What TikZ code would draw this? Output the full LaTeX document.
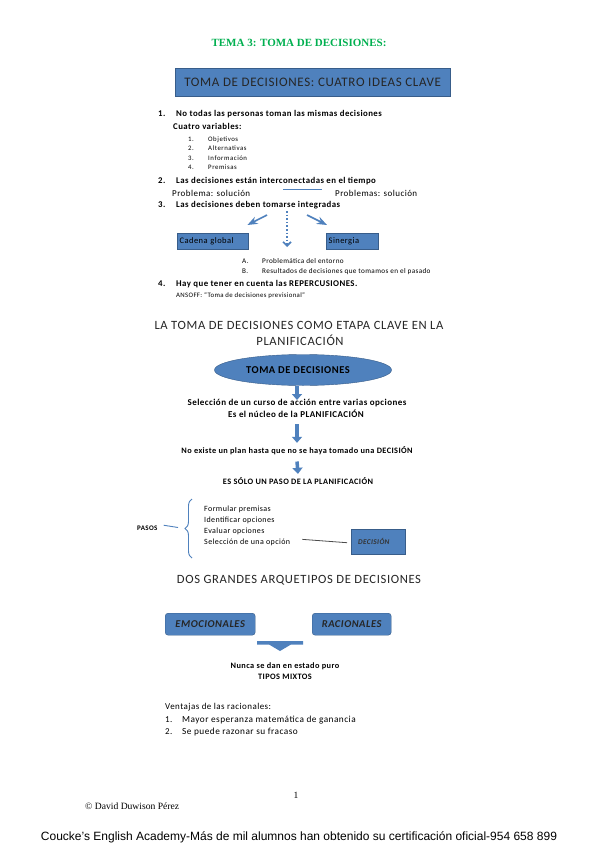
\documentclass[tikz,border=0pt]{standalone}
\usepackage{fontspec}
\setmainfont{Carlito}[LetterSpace=5]
\newfontfamily\spreadfont{Carlito}[LetterSpace=8]
\newfontfamily\timesfont{Liberation Serif}
\newfontfamily\arialfont{Liberation Sans}
\usetikzlibrary{arrows.meta,positioning,calc,shapes.geometric,decorations.pathreplacing}
\definecolor{boxblue}{RGB}{79,129,189}
\definecolor{boxedge}{RGB}{56,93,138}
\definecolor{titlegreen}{RGB}{0,176,80}
\newcommand{\fsz}[1]{\fontsize{#1}{#1}\selectfont}

\begin{document}
\begin{tikzpicture}[x=1pt,y=-1pt,>=Stealth,
		txt/.style={anchor=base west,inner sep=0pt,font=\fsz{9}},
		btxt/.style={txt,font=\fsz{8.8}\bfseries},
		ctxt/.style={anchor=base,inner sep=0pt,font=\fsz{9}\bfseries},
		small/.style={txt,font=\spreadfont\fsz{6.8}},
		heading/.style={anchor=base,inner sep=0pt,font=\fsz{12.6},text=black!85},
		bluebox/.style={draw=boxedge,fill=boxblue,inner sep=0pt,anchor=north west},
		bigarrow/.style={-{Triangle[width=10pt,length=6pt]},line width=3.5pt,draw=boxblue},
		thinarrow/.style={->,line width=1.6pt,draw=boxblue}
	]
	\useasboundingbox[fill=white] (0,0) rectangle (599,848);

	\node (title) [anchor=base,inner sep=0pt,font=\timesfont\fsz{11}\bfseries,text=titlegreen] at (299,47) {TEMA 3: TOMA DE DECISIONES:};

	\node (ideas) [bluebox,minimum width=275pt,minimum height=28pt,font=\fsz{13},text=black!85] at (175,68) {TOMA DE DECISIONES: CUATRO IDEAS CLAVE};

	\node (n1) [btxt] at (158,117) {1.};
	\node (t1) [btxt] at (176,117) {No todas las personas toman las mismas decisiones};
	\node (vars) [btxt] at (173,130) {Cuatro variables:};
	\foreach \k/\name/\yy in {1/Objetivos/141,2/Alternativas/150.5,3/Información/160,4/Premisas/169.5}{
		\node (v\k n) [small] at (188,\yy) {\k.};
		\node (v\k) [small] at (208,\yy) {\name};
	}

	\node (n2) [btxt] at (158,183) {2.};
	\node (t2) [btxt] at (176,183) {Las decisiones están interconectadas en el tiempo};
	\node (prob1) [txt] at (172,196) {Problema: solución};
	\node (prob2) [txt] at (335,196) {Problemas: solución};
	\draw[boxblue,line width=1pt] ($(prob1.east)+(33,-3)$) -- ($(prob2.west)+(-13,-3)$);

	\node (n3) [btxt] at (158,207) {3.};
	\node (t3) [btxt] at (176,207) {Las decisiones deben tomarse integradas};

	\node (cadena) [bluebox,minimum width=71pt,minimum height=16pt,text width=66pt,align=left,font=\fsz{8.5}] at (177,233) {Cadena global};
	\node (sinergia) [bluebox,minimum width=52pt,minimum height=16pt,text width=47pt,align=left,font=\fsz{8.5}] at (326,233) {Sinergia};
	\coordinate (split) at (287,211);
	\draw[thinarrow] ($(split)+(-20,4)$) -- ($(cadena.north east)+(-1,-8)$);
	\draw[thinarrow] ($(split)+(20,4)$) -- ($(sinergia.north west)+(1,-8)$);
	\draw[boxblue,line width=1.6pt,dotted,-{Straight Barb[length=4pt,width=8pt]}] (split) -- (287,247);

	\node (ka) [txt,font=\fsz{7.2}] at (242,263) {A.};
	\node (ta) [txt,font=\fsz{7.2}] at (262,263) {Problemática del entorno};
	\node (kb) [txt,font=\fsz{7.2}] at (242,273) {B.};
	\node (tb) [txt,font=\fsz{7.2}] at (262,273) {Resultados de decisiones que tomamos en el pasado};

	\node (n4) [btxt] at (158,286) {4.};
	\node (t4) [btxt] at (176,286) {Hay que tener en cuenta las REPERCUSIONES.};
	\node (ansoff) [txt,font=\fsz{6.8}] at (176,297) {ANSOFF: “Toma de decisiones previsional”};

	\node (etapa) [heading] at (299,329) {LA TOMA DE DECISIONES COMO ETAPA CLAVE EN LA};
	\node (planif) [heading] at (300,345) {PLANIFICACIÓN};

	\node (toma) [ellipse,draw=boxedge,fill=boxblue,minimum width=177pt,minimum height=31pt,inner sep=0pt,font=\fsz{10.5}\bfseries] at (303,370) {\hspace*{-10pt}TOMA DE DECISIONES};

	\node (sel) [ctxt] at (297,405) {Selección de un curso de acción entre varias opciones};
	\node (nucleo) [ctxt] at (296,417) {Es el núcleo de la PLANIFICACIÓN};
	\node (plan) [ctxt,font=\fsz{8.3}\bfseries] at (297,453) {No existe un plan hasta que no se haya tomado una DECISIÓN};
	\node (paso) [ctxt,font=\fsz{8.3}\bfseries] at (298,484) {ES SÓLO UN PASO DE LA PLANIFICACIÓN};
	\draw[bigarrow] (297,386) -- (297,400);
	\draw[bigarrow] ($(nucleo.south)+(1,7)$) -- ($(plan.north)+(0,-3)$);
	\draw[bigarrow] ($(plan.south)+(0,7)$) -- ($(paso.north)+(0,-3)$);

	\node (pasos) [btxt,font=\fsz{7}\bfseries] at (137,530) {PASOS};
	\draw[boxblue,line width=0.9pt,decorate,decoration={brace,amplitude=7pt,aspect=0.5}] (192,558) -- (192,499);
	\draw[boxblue,line width=0.9pt] ($(pasos.east)+(6,-2.5)$) -- (178,527.5);
	\foreach \k/\name/\yy in {1/Formular premisas/511,2/Identificar opciones/522,3/Evaluar opciones/533,4/Selección de una opción/544}{
		\node (p\k) [txt,font=\fsz{8}] at (204,\yy) {\name};
	}
	\node (decision) [bluebox,minimum width=54pt,minimum height=25pt,text width=44pt,align=left,font=\fsz{7.3}\bfseries\itshape,text=black!80] at (351,529) {\hspace*{2pt}DECISIÓN};
	\draw[black!70,line width=0.8pt] ($(p4.east)+(12,-2.5)$) -- ($(decision.west)+(-4,1)$);

	\node (arque) [heading] at (299,583) {DOS GRANDES ARQUETIPOS DE DECISIONES};

	\node (emoc) [bluebox,rounded corners=3pt,minimum width=90pt,minimum height=22pt,font=\fsz{10.5}\bfseries\itshape,text=black!85] at (165,613) {EMOCIONALES};
	\node (racio) [bluebox,rounded corners=3pt,minimum width=79pt,minimum height=22pt,font=\fsz{10.5}\bfseries\itshape,text=black!85] at (312,613) {RACIONALES};
	\coordinate (mix) at (280,641);
	\fill[boxblue] ($(mix)+(-23,0)$) -- ($(mix)+(23,0)$) -- ($(mix)+(23,3.5)$) -- ($(mix)+(11,3.5)$) -- ($(mix)+(0,10)$) -- ($(mix)+(-11,3.5)$) -- ($(mix)+(-23,3.5)$) -- cycle;

	\node (nunca) [ctxt,font=\fsz{8.3}\bfseries] at (285,668) {Nunca se dan en estado puro};
	\node (mixtos) [ctxt,font=\fsz{8.3}\bfseries] at (285,679) {TIPOS MIXTOS};

	\node (vent) [txt] at (165,709) {Ventajas de las racionales:};
	\node (w1n) [txt] at (165,722) {1.};
	\node (w1) [txt,font=\fsz{9.3}] at (182,722) {Mayor esperanza matemática de ganancia};
	\node (w2n) [txt] at (165,734) {2.};
	\node (w2) [txt,font=\fsz{9.3}] at (182,734) {Se puede razonar su fracaso};

	\node (page) [anchor=base,inner sep=0pt,font=\timesfont\fsz{9.5}] at (296,798) {1};
	\node (author) [anchor=base west,inner sep=0pt,font=\timesfont\fsz{9.6}] at (85,809) {© David Duwison Pérez};
	\node (footer) [anchor=base,inner sep=0pt,font=\arialfont\fsz{12}] at (299,840) {Coucke’s English Academy-Más de mil alumnos han obtenido su certificación oficial-954 658 899};
\end{tikzpicture}
\end{document}
